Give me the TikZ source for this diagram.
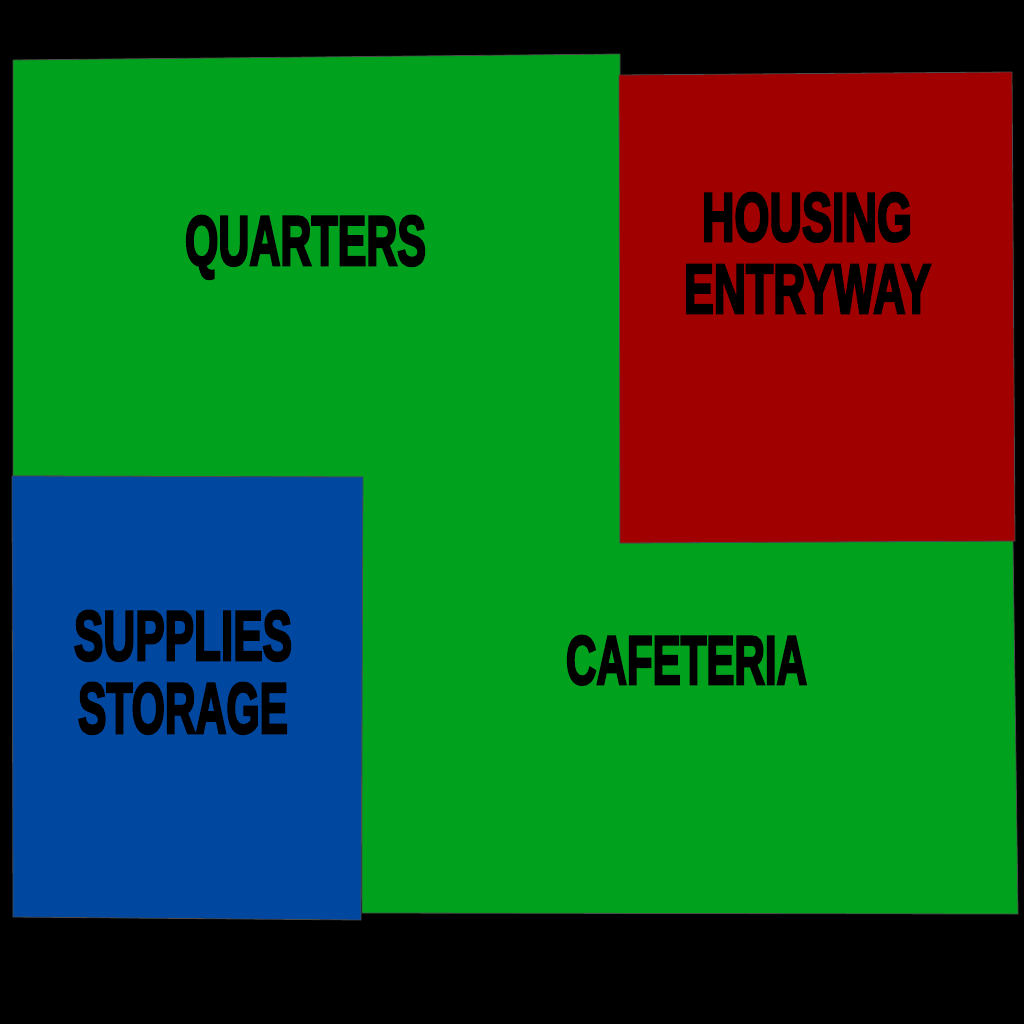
\documentclass[tikz,border=0pt]{standalone}
\usepackage{fontspec}
\setmainfont{Liberation Sans}
\newfontfamily\heavyfont[BoldFeatures={FakeBold=4}]{Liberation Sans}
\usepackage{graphicx}
\definecolor{roomgreen}{RGB}{0,161,29}
\definecolor{roomred}{RGB}{160,0,0}
\definecolor{roomblue}{RGB}{0,71,160}
\tikzset{
  room/.style={draw=black!70, line width=0.8pt},
  lbl/.style={anchor=base, inner sep=0pt, text=black}
}
\newcommand{\roomtext}[3]{\resizebox{#1pt}{#2pt}{\heavyfont\bfseries #3}}
\begin{document}
\begin{tikzpicture}[x=1pt,y=-1pt]
\fill[black] (0,0) rectangle (1024,1024);
\useasboundingbox (0,0) rectangle (1024,1024);
% green (quarters + cafeteria)
\path[room, fill=roomgreen] (13,60) -- (620,54) -- (620,543) -- (1013,541) -- (1018,914) -- (362,913) -- (362,477) -- (13,476) -- cycle;
% red housing entryway
\path[room, fill=roomred] (619,75) -- (1012,72) -- (1015,541) -- (620,543) -- cycle;
% blue supplies storage
\path[room, fill=roomblue] (12,476) -- (363,477) -- (361,920) -- (13,917) -- cycle;
% labels
\node[lbl] (quarters) at (305.5,265) {\roomtext{241}{49}{QUARTERS}};
\node[lbl] (housing) at (807,241) {\roomtext{210}{48}{HOUSING}};
\node[lbl] (entryway) at (807.5,313) {\roomtext{247}{48}{ENTRYWAY}};
\node[lbl] (supplies) at (183,660) {\roomtext{218}{49}{SUPPLIES}};
\node[lbl] (storage) at (183,733) {\roomtext{210}{50}{STORAGE}};
\node[lbl] (cafeteria) at (686.5,684) {\roomtext{241}{48}{CAFETERIA}};
\end{tikzpicture}
\end{document}
